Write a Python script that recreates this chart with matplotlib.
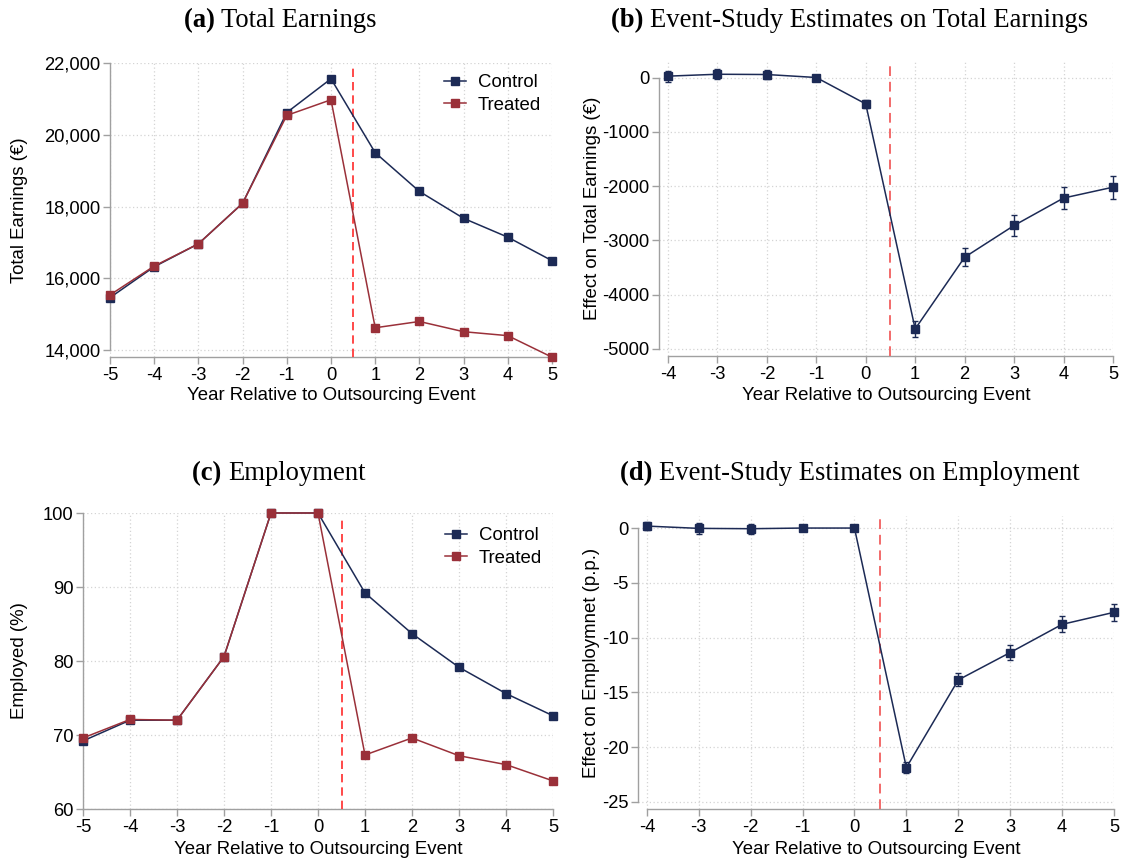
import matplotlib
matplotlib.use("Agg")
import matplotlib.pyplot as plt
from matplotlib.ticker import FuncFormatter
import numpy as np

# ---------------- data ----------------
years_a = [-5, -4, -3, -2, -1, 0, 1, 2, 3, 4, 5]
earn_control = [15460, 16320, 16960, 18090, 20620, 21560, 19500, 18420, 17670, 17145, 16490]
earn_treated = [15535, 16340, 16960, 18090, 20540, 20975, 14620, 14795, 14510, 14400, 13800]

years_b = [-4, -3, -2, -1, 0, 1, 2, 3, 4, 5]
es_earn = [25, 60, 55, 0, -486, -4630, -3310, -2725, -2220, -2020]
es_earn_ci = [100, 90, 80, 10, 70, 150, 165, 185, 200, 215]

emp_control = [69.2, 72.0, 72.0, 80.6, 100.0, 100.0, 89.2, 83.7, 79.15, 75.6, 72.6]
emp_treated = [69.6, 72.1, 72.0, 80.6, 100.0, 100.0, 67.3, 69.6, 67.2, 66.0, 63.8]

es_emp = [0.18, -0.03, -0.06, 0.0, 0.0, -21.86, -13.86, -11.36, -8.79, -7.69]
es_emp_ci = [0.40, 0.47, 0.45, 0.08, 0.05, 0.52, 0.60, 0.66, 0.72, 0.78]

titles = [("(a)", "Total Earnings"),
          ("(b)", "Event-Study Estimates on Total Earnings"),
          ("(c)", "Employment"),
          ("(d)", "Event-Study Estimates on Employment")]
xlabel = "Year Relative to Outsourcing Event"

# ---------------- style ----------------
NAVY = "#1c2a55"
MAROON = "#9a3039"
RED = "#ff2a2a"
RED_B = "#f26a6a"
SPINE = "#a0a0a0"
GRID = "#d4d4d4"
TICKFS = 13.2
LABFS = 13.4

plt.rcParams["font.family"] = ["Liberation Sans", "DejaVu Sans"]
plt.rcParams["axes.unicode_minus"] = False

W, H = 1122, 861
fig = plt.figure(figsize=(W / 100, H / 100), dpi=100)


def rect(l, r, t, b):
    return [l / W, 1 - b / H, (r - l) / W, (b - t) / H]


def style(ax, box, xb, yb, ylab, ylab_x, xlab_y):
    l, r, t, b = box
    for s in ["top", "right"]:
        ax.spines[s].set_visible(False)
    for s in ["left", "bottom"]:
        ax.spines[s].set_color(SPINE)
        ax.spines[s].set_linewidth(1.0)
    ax.spines["bottom"].set_bounds(*xb)
    ax.spines["left"].set_bounds(*yb)
    ax.tick_params(axis="both", colors=SPINE, labelcolor="black", labelsize=TICKFS,
                   length=5, width=1.0, direction="out", pad=2)
    ax.grid(True, linestyle=(0, (1, 2)), color=GRID, linewidth=0.9)
    ax.set_axisbelow(True)
    ax.set_xlabel(xlabel, fontsize=LABFS)
    ax.xaxis.label.set_va("center")
    ax.xaxis.set_label_coords(0.5, (b - xlab_y) / (b - t))
    ax.set_ylabel(ylab, fontsize=LABFS)
    ax.yaxis.label.set_va("center")
    ax.yaxis.set_label_coords((ylab_x - l) / (r - l), 0.5)


def title(x, y, tag, rest):
    fs = 19.2
    t1 = fig.text(0, 0, tag + " ", fontsize=fs, fontweight="bold", family="Liberation Serif")
    t2 = fig.text(0, 0, rest, fontsize=fs, family="Liberation Serif")
    r = fig.canvas.get_renderer()
    w1 = t1.get_window_extent(r).width
    w2 = t2.get_window_extent(r).width
    x0 = x - (w1 + w2) / 2
    t1.set_position((x0 / W, 1 - y / H))
    t2.set_position(((x0 + w1) / W, 1 - y / H))
    t1.set_va("baseline"); t2.set_va("baseline")


# ---------------- panel a ----------------
box = (110, 552, 63, 357)
ax = fig.add_axes(rect(*box))
ax.plot(years_a, earn_control, color=NAVY, marker="s", ms=5.5, lw=1.1, label="Control", clip_on=False, zorder=4)
ax.plot(years_a, earn_treated, color=MAROON, marker="s", ms=5.5, lw=1.1, label="Treated", clip_on=False, zorder=4)
ax.axvline(0.5, color=RED, lw=1.2, linestyle=(0, (5, 3)), ymax=0.985, zorder=3)
ax.set_xlim(-5, 5)
ax.set_ylim(13805, 22000)
ax.set_xticks(years_a)
ax.set_yticks([14000, 16000, 18000, 20000, 22000])
ax.yaxis.set_major_formatter(FuncFormatter(lambda v, p: f"{int(v):,}"))
style(ax, box, (-5, 5), (14000, 22000), "Total Earnings (€)", 20, 396)
ax.legend(loc="upper right", bbox_to_anchor=(1.0, 1.0), frameon=False, fontsize=LABFS,
          handlelength=1.2, handletextpad=0.6, labelspacing=0.3, borderaxespad=0.2)

# ---------------- panel b ----------------
box = (659, 1113, 61, 356)
ax = fig.add_axes(rect(*box))
ax.errorbar(years_b, es_earn, yerr=es_earn_ci, color=NAVY, marker="s", ms=5.5, lw=1.1,
            ecolor=NAVY, elinewidth=1.0, capsize=2.5, capthick=1.0, clip_on=False, zorder=4)
ax.axvline(0.5, color=RED_B, lw=1.4, linestyle=(0, (5, 3)), zorder=3)
ax.set_xlim(-4.18, 5)
ax.set_ylim(-5129, 304)
ax.set_xticks(years_b)
ax.set_yticks([0, -1000, -2000, -3000, -4000, -5000])
style(ax, box, (-4, 5), (-5000, 0), "Effect on Total Earnings (€)", 592, 396)

# ---------------- panel c ----------------
box = (83, 553, 513, 809)
ax = fig.add_axes(rect(*box))
ax.plot(years_a, emp_control, color=NAVY, marker="s", ms=5.5, lw=1.1, label="Control", clip_on=False, zorder=4)
ax.plot(years_a, emp_treated, color=MAROON, marker="s", ms=5.5, lw=1.1, label="Treated", clip_on=False, zorder=4)
ax.axvline(0.5, color=RED, lw=1.2, linestyle=(0, (5, 3)), ymax=0.975, zorder=3)
ax.set_xlim(-5, 5)
ax.set_ylim(60, 100)
ax.set_xticks(years_a)
ax.set_yticks([60, 70, 80, 90, 100])
style(ax, box, (-5, 5), (60, 100), "Employed (%)", 20, 849)
ax.legend(loc="upper right", bbox_to_anchor=(1.0, 0.99), frameon=False, fontsize=LABFS,
          handlelength=1.2, handletextpad=0.6, labelspacing=0.3, borderaxespad=0.2)

# ---------------- panel d ----------------
box = (638, 1114, 516, 809)
ax = fig.add_axes(rect(*box))
ax.errorbar(years_b, es_emp, yerr=es_emp_ci, color=NAVY, marker="s", ms=5.5, lw=1.1,
            ecolor=NAVY, elinewidth=1.0, capsize=2.5, capthick=1.0, clip_on=False, zorder=4)
ax.axvline(0.5, color=RED_B, lw=1.4, linestyle=(0, (5, 3)), zorder=3)
ax.set_xlim(-4.17, 5)
ax.set_ylim(-25.64, 1.1)
ax.set_xticks(years_b)
ax.set_yticks([0, -5, -10, -15, -20, -25])
style(ax, box, (-4, 5), (-25, 0), "Effect on Employmnet (p.p.)", 592, 849)

# ---------------- titles ----------------
title(280, 27, *titles[0])
title(850, 27, *titles[1])
title(279, 480, *titles[2])
title(850, 480, *titles[3])

fig.savefig("out.png", dpi=100)
